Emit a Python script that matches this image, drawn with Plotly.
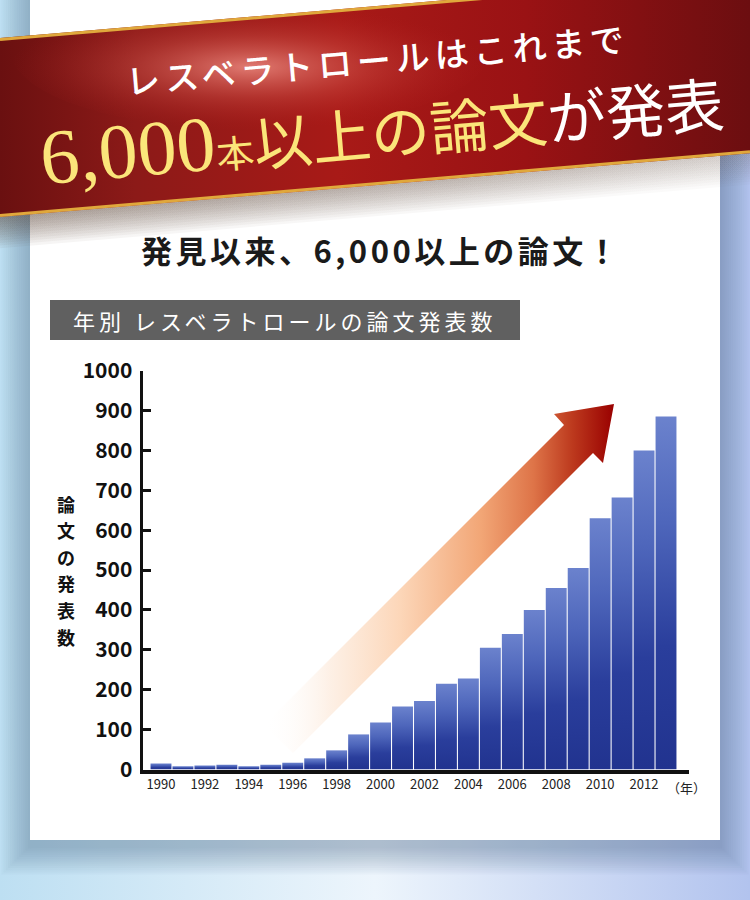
import math
import plotly.graph_objects as go

# ---------------- data ----------------
years = list(range(1990, 2014))
papers = [15, 8, 10, 12, 8, 12, 17, 28, 48, 88, 118, 158, 172, 215, 228,
          305, 340, 400, 455, 505, 630, 682, 800, 885]
y_ticks = list(range(0, 1001, 100))
x_ticks = list(range(1990, 2013, 2))

banner_line1 = "レスベラトロールはこれまで"
banner_num = "6,000"
banner_unit = "本"
banner_yellow = "以上の論文"
banner_white = "が発表"
heading = "発見以来、6,000以上の論文！"
box_title = "年別 レスベラトロールの論文発表数"
y_title = "論文の発表数"
x_unit = "（年）"

JP = "Noto Sans CJK JP"
W, H = 750, 900

fig = go.Figure()


def poly(xs, ys, color=None, gradient=None):
    tr = dict(x=list(xs) + [xs[0]], y=list(ys) + [ys[0]], mode="none",
              fill="toself", hoverinfo="skip", showlegend=False,
              xaxis="x", yaxis="y")
    if color is not None:
        tr["fillcolor"] = color
    if gradient is not None:
        tr["fillgradient"] = gradient
        tr["fillcolor"] = "rgba(0,0,0,0)"
    fig.add_trace(go.Scatter(**tr))


# page background
poly([0, W, W, 0], [0, 0, H, H], gradient=dict(
    type="horizontal",
    colorscale=[[0, "#bddff2"], [0.5, "#edf5fc"], [1, "#b2c3ee"]]))

# card shadow
for k in range(1, 14):
    e = 2.2 * k
    poly([30 - e, 720 + e, 720 + e, 30 - e],
         [-10, -10, 846 + e, 846 + e], color="rgba(60,90,140,0.03)")

# card
poly([30, 720, 720, 30], [0, 0, 840, 840], color="#ffffff")

# ribbon geometry
slope = -0.085


def top(x):
    return 38 + slope * x


def bot(x):
    return 217 + slope * x


# ribbon shadow (stronger on the left)
for i in range(12):
    d = 2.6 * (i + 1)
    poly([0, W, W, 0], [bot(0), bot(W), bot(W) + d, bot(0) + d],
         gradient=dict(type="horizontal", colorscale=[
             [0, "rgba(70,45,30,0.05)"], [0.6, "rgba(70,45,30,0.035)"],
             [1, "rgba(70,45,30,0.02)"]]))

# ribbon body
poly([0, W, W, 0], [top(0), top(W), bot(W), bot(0)], gradient=dict(
    type="horizontal",
    colorscale=[[0, "#6a1010"], [0.18, "#8c1a18"], [0.45, "#a81a17"],
                [0.7, "#9a1214"], [1, "#6c0e10"]]))

# highlight on ribbon (clipped ellipse)
cx, cy, rx, ry = 250, 50, 240, 80
hxs, hys = [], []
for j in range(73):
    a = 2 * math.pi * j / 72
    px = cx + rx * math.cos(a)
    py = cy + ry * math.sin(a)
    py = min(max(py, top(px) + 3), bot(px) - 3)
    hxs.append(px)
    hys.append(py)
poly(hxs, hys, gradient=dict(
    type="radial",
    colorscale=[[0, "rgba(236,140,130,0.85)"], [0.5, "rgba(215,90,80,0.35)"],
                [1, "rgba(180,30,30,0)"]]))

# gold borders
for f, off in ((top, 1.5), (bot, -1.5)):
    fig.add_trace(go.Scatter(x=[0, W], y=[f(0) + off, f(W) + off], mode="lines",
                             line=dict(color="#e0a83c", width=3),
                             hoverinfo="skip", showlegend=False,
                             xaxis="x", yaxis="y"))

# gray title box
poly([50, 520, 520, 50], [300, 300, 340, 340], color="#606060")

# arrow
poly([614, 554, 564, 264, 293, 593, 603],
     [404, 414, 425, 725, 753, 453, 463],
     gradient=dict(type="horizontal", colorscale=[
         [0, "rgba(255,255,255,0)"], [0.19, "rgba(253,238,226,0.9)"],
         [0.39, "#fcd6b8"], [0.62, "#f2a676"], [0.77, "#de7448"],
         [0.88, "#bd3a1e"], [1, "#990000"]]))

# ---------------- bars ----------------
half = 0.476
for yr, v in zip(years, papers):
    fig.add_trace(go.Scatter(
        x=[yr - half, yr + half, yr + half, yr - half, yr - half],
        y=[0, 0, v, v, 0], mode="none", fill="toself",
        fillcolor="rgba(0,0,0,0)",
        fillgradient=dict(type="vertical", colorscale=[
            [0, "#21338f"], [0.35, "#2a3e9c"], [0.7, "#4e66bb"],
            [1, "#6b82cd"]]),
        name=str(yr), hovertemplate="%{text}<extra></extra>",
        text=[f"{yr}: {v}"] * 5,
        showlegend=False, xaxis="x2", yaxis="y2"))

# ---------------- annotations ----------------
ann = []


def txt(x, y, text, size, color="#111", weight=400, family=JP, angle=0,
        xanchor="center", yanchor="middle"):
    ann.append(dict(x=x, y=y, xref="x", yref="y", text=text, showarrow=False,
                    textangle=angle, xanchor=xanchor, yanchor=yanchor,
                    font=dict(family=family, size=size, color=color,
                              weight=weight)))


txt(377, 58, f'<span style="letter-spacing:5px">{banner_line1}</span>', 34,
    color="#ffffff", weight=500, angle=-4.9)
line2 = (f'<span style="font-size:78px">{banner_num}</span>'
         f'<span style="font-size:38px">{banner_unit}</span>'
         f'<span style="font-size:59px">{banner_yellow}</span>'
         f'<span style="font-size:59px;color:#ffffff">{banner_white}</span>')
txt(382, 128, line2, 59, color="#fbe57a", weight=400,
    family="Liberation Serif, " + JP, angle=-4.9)

txt(381, 249, f'<span style="letter-spacing:3.5px">{heading}</span>', 31,
    color="#1a1a1a", weight=700)
txt(71, 320, f'<span style="letter-spacing:4px">{box_title}</span>', 22,
    color="#ffffff", weight=400, xanchor="left")

# vertical (stacked) axis title
n = len(y_title)
for i, ch in enumerate(y_title):
    txt(66, 570 + (i - (n - 1) / 2) * 26.6, ch, 18, color="#111", weight=700)

txt(686, 787, x_unit, 13, color="#222")

x_lo, x_hi = 1989.158, 2014.047

fig.update_layout(
    width=W, height=H, autosize=False,
    margin=dict(l=0, r=0, t=0, b=0, pad=0, autoexpand=False),
    paper_bgcolor="#ffffff", plot_bgcolor="rgba(0,0,0,0)",
    showlegend=False, annotations=ann,
    font=dict(family=JP, color="#111"),
    xaxis=dict(domain=[0, 1], range=[0, W], visible=False, fixedrange=True,
               automargin=False),
    yaxis=dict(domain=[0, 1], range=[H, 0], visible=False, fixedrange=True,
               automargin=False),
    xaxis2=dict(domain=[142.5 / W, 689 / W], range=[x_lo, x_hi],
                anchor="y2", tickvals=x_ticks, ticktext=[str(t) for t in x_ticks],
                ticks="", showline=True, linewidth=3.5, linecolor="#111",
                showgrid=False, zeroline=False, automargin=False,
                tickfont=dict(family=JP, size=13, color="#222"),
                fixedrange=True),
    yaxis2=dict(domain=[1 - 769.5 / H, 1 - 370.7 / H], range=[0, 1000],
                anchor="x2", tickvals=y_ticks, ticks="inside", ticklen=8,
                tickwidth=2.5, tickcolor="#111", showline=True, linewidth=3,
                linecolor="#111", showgrid=False, zeroline=False,
                ticklabelstandoff=3, automargin=False,
                tickfont=dict(family=JP, size=21, color="#111", weight=700),
                fixedrange=True),
)

fig.write_html(
    "out.html",
    config={"displayModeBar": False},
    post_script="document.body.style.margin='0';"
                "document.body.style.overflow='hidden';",
)
